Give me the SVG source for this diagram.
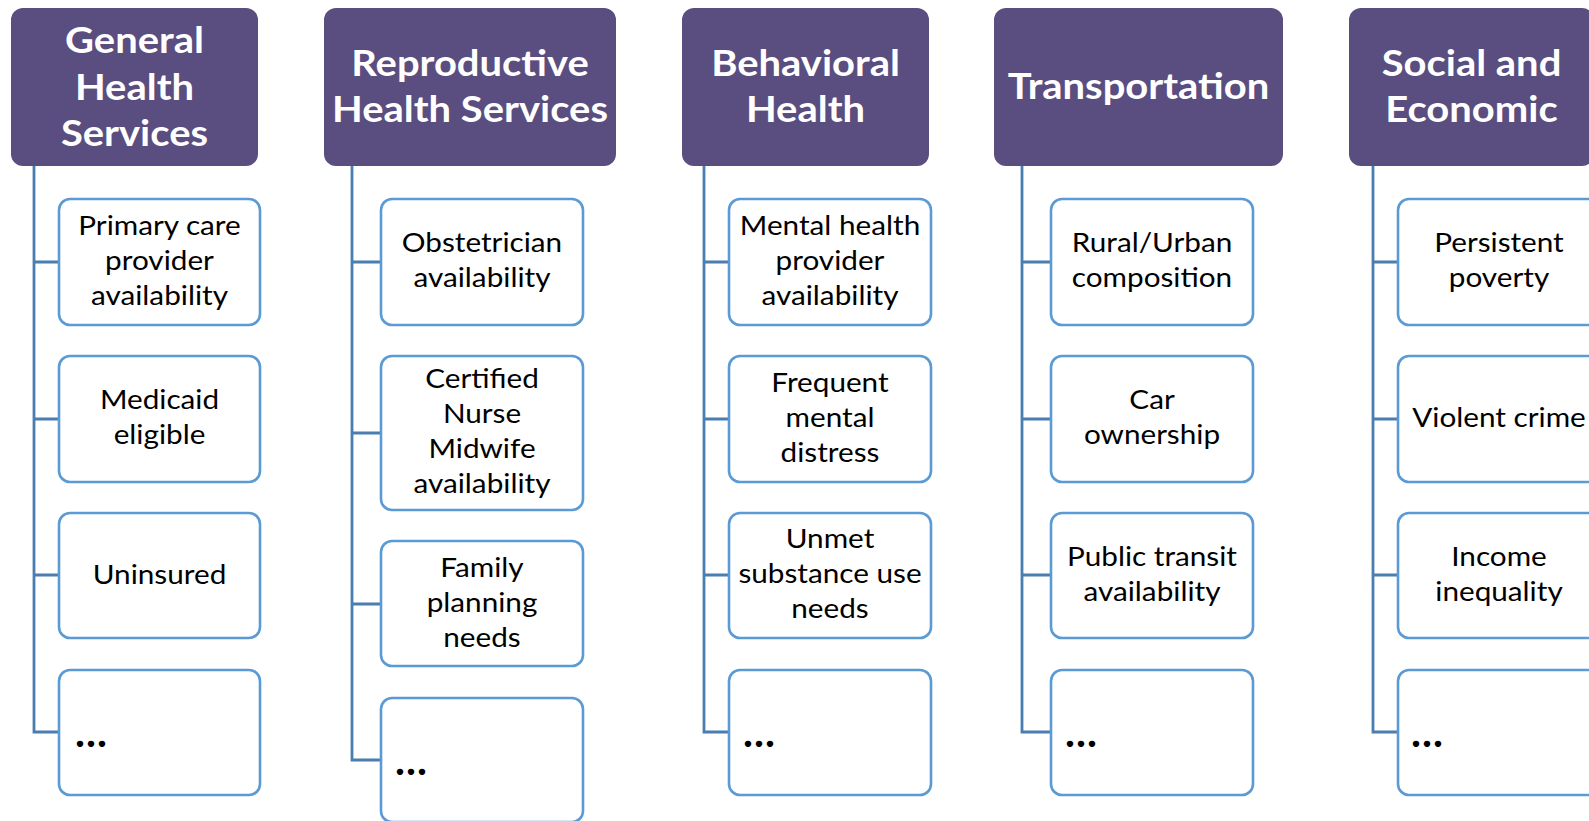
<svg xmlns="http://www.w3.org/2000/svg" width="1589" height="821" viewBox="0 0 1589 821">
  <style>
    .hdr { fill: #5a4d7f; }
    .hdr-t { fill: #ffffff; font-family: Lato, "Open Sans", sans-serif; font-weight: bold; font-size: 37px; text-anchor: middle; }
    .item { fill: #ffffff; stroke: #5b9bd5; stroke-width: 2.6; }
    .item-t { fill: #000000; font-family: Lato, "Open Sans", sans-serif; font-size: 27px; text-anchor: middle; }
    .more-t { fill: #000000; font-family: Lato, "Open Sans", sans-serif; font-weight: bold; font-size: 42px; letter-spacing: 1px; }
    .conn { fill: none; stroke: #4a7db0; stroke-width: 2.8; }
  </style>
  <rect width="1589" height="821" fill="#ffffff"/>

  <!-- connectors: vertical spine from each header with a tick to every item -->
  <g id="connectors" class="conn">
    <path d="M34,166 V732 H59 M34,262 H59 M34,419 H59 M34,575 H59"/>
    <path d="M352,166 V760 H381 M352,262 H381 M352,433 H381 M352,604 H381"/>
    <path d="M704,166 V732 H729 M704,262 H729 M704,419 H729 M704,575 H729"/>
    <path d="M1022,166 V732 H1051 M1022,262 H1051 M1022,419 H1051 M1022,575 H1051"/>
    <path d="M1373,166 V732 H1398 M1373,262 H1398 M1373,419 H1398 M1373,575 H1398"/>
  </g>

  <!-- column 1 -->
  <g id="general-health-services">
    <rect class="hdr" x="11" y="8" width="247" height="158" rx="12"/>
    <g transform="translate(134.5,0) scale(1.08,1)">
      <text class="hdr-t" x="0" y="53">General</text>
      <text class="hdr-t" x="0" y="100">Health</text>
      <text class="hdr-t" x="0" y="146">Services</text>
    </g>
  </g>
  <g id="primary-care">
    <rect class="item" x="59" y="199" width="201" height="126" rx="11"/>
    <g transform="translate(159.5,0) scale(1.1,1)">
      <text class="item-t" x="0" y="235">Primary care</text>
      <text class="item-t" x="0" y="270">provider</text>
      <text class="item-t" x="0" y="305">availability</text>
    </g>
  </g>
  <g id="medicaid">
    <rect class="item" x="59" y="356" width="201" height="126" rx="11"/>
    <g transform="translate(159.5,0) scale(1.1,1)">
      <text class="item-t" x="0" y="409">Medicaid</text>
      <text class="item-t" x="0" y="444">eligible</text>
    </g>
  </g>
  <g id="uninsured">
    <rect class="item" x="59" y="513" width="201" height="125" rx="11"/>
    <g transform="translate(159.5,0) scale(1.1,1)">
      <text class="item-t" x="0" y="584">Uninsured</text>
    </g>
  </g>
  <g id="general-more">
    <rect class="item" x="59" y="670" width="201" height="125" rx="11"/>
    <text class="more-t" x="75" y="747">...</text>
  </g>

  <!-- column 2 -->
  <g id="reproductive-health-services">
    <rect class="hdr" x="324" y="8" width="292" height="158" rx="12"/>
    <g transform="translate(470,0) scale(1.08,1)">
      <text class="hdr-t" x="0" y="76">Reproductive</text>
      <text class="hdr-t" x="0" y="122">Health Services</text>
    </g>
  </g>
  <g id="obstetrician">
    <rect class="item" x="381" y="199" width="202" height="126" rx="11"/>
    <g transform="translate(482,0) scale(1.1,1)">
      <text class="item-t" x="0" y="252">Obstetrician</text>
      <text class="item-t" x="0" y="287">availability</text>
    </g>
  </g>
  <g id="nurse-midwife">
    <rect class="item" x="381" y="356" width="202" height="154" rx="11"/>
    <g transform="translate(482,0) scale(1.1,1)">
      <text class="item-t" x="0" y="388.5">Certified</text>
      <text class="item-t" x="0" y="423.5">Nurse</text>
      <text class="item-t" x="0" y="458.5">Midwife</text>
      <text class="item-t" x="0" y="493.5">availability</text>
    </g>
  </g>
  <g id="family-planning">
    <rect class="item" x="381" y="541" width="202" height="125" rx="11"/>
    <g transform="translate(482,0) scale(1.1,1)">
      <text class="item-t" x="0" y="577">Family</text>
      <text class="item-t" x="0" y="612">planning</text>
      <text class="item-t" x="0" y="647">needs</text>
    </g>
  </g>
  <g id="reproductive-more">
    <rect class="item" x="381" y="698" width="202" height="124" rx="11"/>
    <text class="more-t" x="395" y="775">...</text>
  </g>

  <!-- column 3 -->
  <g id="behavioral-health">
    <rect class="hdr" x="682" y="8" width="247" height="158" rx="12"/>
    <g transform="translate(805.5,0) scale(1.08,1)">
      <text class="hdr-t" x="0" y="76">Behavioral</text>
      <text class="hdr-t" x="0" y="122">Health</text>
    </g>
  </g>
  <g id="mental-health-provider">
    <rect class="item" x="729" y="199" width="202" height="126" rx="11"/>
    <g transform="translate(830,0) scale(1.1,1)">
      <text class="item-t" x="0" y="235">Mental health</text>
      <text class="item-t" x="0" y="270">provider</text>
      <text class="item-t" x="0" y="305">availability</text>
    </g>
  </g>
  <g id="mental-distress">
    <rect class="item" x="729" y="356" width="202" height="126" rx="11"/>
    <g transform="translate(830,0) scale(1.1,1)">
      <text class="item-t" x="0" y="392">Frequent</text>
      <text class="item-t" x="0" y="427">mental</text>
      <text class="item-t" x="0" y="462">distress</text>
    </g>
  </g>
  <g id="substance-use">
    <rect class="item" x="729" y="513" width="202" height="125" rx="11"/>
    <g transform="translate(830,0) scale(1.1,1)">
      <text class="item-t" x="0" y="548">Unmet</text>
      <text class="item-t" x="0" y="583">substance use</text>
      <text class="item-t" x="0" y="618">needs</text>
    </g>
  </g>
  <g id="behavioral-more">
    <rect class="item" x="729" y="670" width="202" height="125" rx="11"/>
    <text class="more-t" x="743" y="747">...</text>
  </g>

  <!-- column 4 -->
  <g id="transportation">
    <rect class="hdr" x="994" y="8" width="289" height="158" rx="12"/>
    <g transform="translate(1138.5,0) scale(1.08,1)">
      <text class="hdr-t" x="0" y="99">Transportation</text>
    </g>
  </g>
  <g id="rural-urban">
    <rect class="item" x="1051" y="199" width="202" height="126" rx="11"/>
    <g transform="translate(1152,0) scale(1.1,1)">
      <text class="item-t" x="0" y="252">Rural/Urban</text>
      <text class="item-t" x="0" y="287">composition</text>
    </g>
  </g>
  <g id="car-ownership">
    <rect class="item" x="1051" y="356" width="202" height="126" rx="11"/>
    <g transform="translate(1152,0) scale(1.1,1)">
      <text class="item-t" x="0" y="409">Car</text>
      <text class="item-t" x="0" y="444">ownership</text>
    </g>
  </g>
  <g id="public-transit">
    <rect class="item" x="1051" y="513" width="202" height="125" rx="11"/>
    <g transform="translate(1152,0) scale(1.1,1)">
      <text class="item-t" x="0" y="566">Public transit</text>
      <text class="item-t" x="0" y="601">availability</text>
    </g>
  </g>
  <g id="transportation-more">
    <rect class="item" x="1051" y="670" width="202" height="125" rx="11"/>
    <text class="more-t" x="1065" y="747">...</text>
  </g>

  <!-- column 5 (runs past the right edge) -->
  <g id="social-economic">
    <rect class="hdr" x="1349" y="8" width="245" height="158" rx="12"/>
    <g transform="translate(1471.5,0) scale(1.08,1)">
      <text class="hdr-t" x="0" y="76">Social and</text>
      <text class="hdr-t" x="0" y="122">Economic</text>
    </g>
  </g>
  <g id="persistent-poverty">
    <rect class="item" x="1398" y="199" width="202" height="126" rx="11"/>
    <g transform="translate(1499,0) scale(1.1,1)">
      <text class="item-t" x="0" y="252">Persistent</text>
      <text class="item-t" x="0" y="287">poverty</text>
    </g>
  </g>
  <g id="violent-crime">
    <rect class="item" x="1398" y="356" width="202" height="126" rx="11"/>
    <g transform="translate(1499,0) scale(1.1,1)">
      <text class="item-t" x="0" y="427">Violent crime</text>
    </g>
  </g>
  <g id="income-inequality">
    <rect class="item" x="1398" y="513" width="202" height="125" rx="11"/>
    <g transform="translate(1499,0) scale(1.1,1)">
      <text class="item-t" x="0" y="566">Income</text>
      <text class="item-t" x="0" y="601">inequality</text>
    </g>
  </g>
  <g id="social-more">
    <rect class="item" x="1398" y="670" width="202" height="125" rx="11"/>
    <text class="more-t" x="1411" y="747">...</text>
  </g>
</svg>
